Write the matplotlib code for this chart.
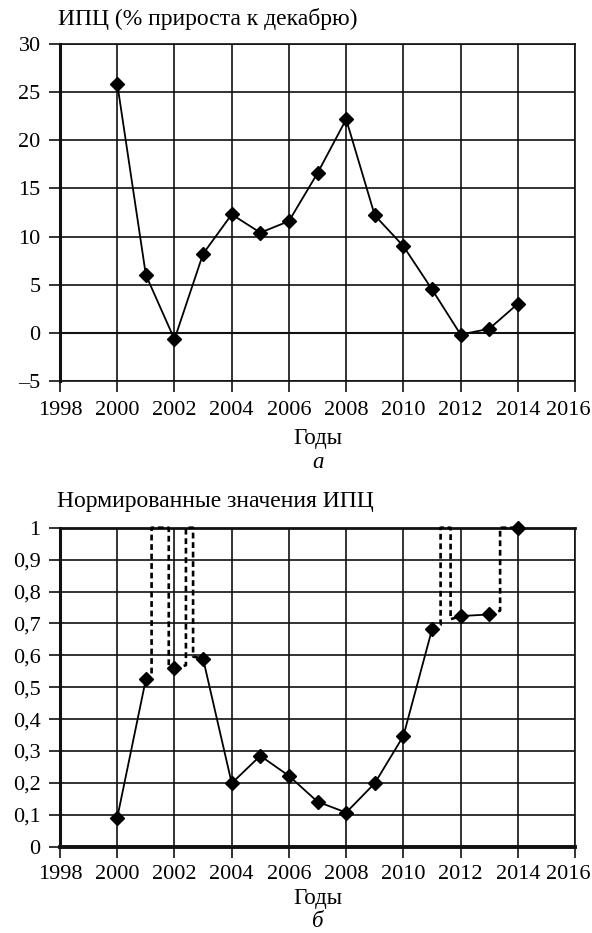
import matplotlib.pyplot as plt
import matplotlib.transforms as mtransforms

plt.rcParams['font.family'] = ['Liberation Serif', 'DejaVu Serif']

years = list(range(2000, 2015))
cpi = [25.9, 6.0, -0.7, 8.2, 12.3, 10.4, 11.6, 16.6, 22.2, 12.2, 9.0, 4.5, -0.2, 0.4, 3.0]
cpi_norm = [0.091, 0.525, 0.559, 0.589, 0.199, 0.285, 0.222, 0.141, 0.107,
            0.199, 0.347, 0.681, 0.723, 0.728, 1.0]

# solid pieces of the normalised series (first year, last year)
norm_solid = [(2000, 2001), (2003, 2011), (2012, 2013)]

# dashed detours between points of the normalised series
dash_x = [
    [2001, 2001.2, 2001.2, 2001.8, 2001.8, 2002],
    [2002, 2002.4, 2002.4, 2002.65, 2002.65, 2003],
    [2011, 2011.3, 2011.3, 2011.65, 2011.65, 2012],
    [2013, 2013.38, 2013.38, 2014],
]
dash_y = [
    [0.525, 0.533, 1.0, 1.0, 0.569, 0.559],
    [0.559, 0.569, 1.0, 1.0, 0.596, 0.589],
    [0.681, 0.695, 1.0, 1.0, 0.713, 0.723],
    [0.728, 0.74, 1.0, 1.0],
]

x_ticks = list(range(1998, 2017, 2))
cpi_ticks = [-5, 0, 5, 10, 15, 20, 25, 30]
cpi_labels = ['\u20135', '0', '5', '10', '15', '20', '25', '30']
norm_ticks = [i / 10 for i in range(11)]
norm_labels = ['0', '0,1', '0,2', '0,3', '0,4', '0,5', '0,6', '0,7', '0,8', '0,9', '1']

INK = '#111111'
FS = 16

fig = plt.figure(figsize=(5.92, 9.33), dpi=100)
ax1 = fig.add_axes([0.1014, 0.592, 0.870, 0.3605])
ax2 = fig.add_axes([0.1014, 0.0925, 0.870, 0.3419])


def style(ax, xt, yt, ylabels, xpad):
    ax.set_xlim(1998, 2016)
    ax.set_ylim(yt[0], yt[-1])
    ax.set_xticks(xt)
    ax.set_xticklabels([str(t) for t in xt])
    ax.set_yticks(yt)
    ax.set_yticklabels(ylabels)
    ax.grid(True, color=INK, lw=1.2)
    ax.set_axisbelow(True)
    for s in ax.spines.values():
        s.set_color(INK)
        s.set_linewidth(1.2)
    ax.spines['left'].set_linewidth(2.2)
    ax.tick_params(axis='both', direction='out', length=8, width=1.2,
                   color=INK, labelsize=FS)
    ax.tick_params(axis='x', pad=xpad)
    ax.tick_params(axis='y', pad=6)
    # last year label sits a little inside, as in the source
    last = ax.get_xticklabels()[-1]
    last.set_transform(last.get_transform() +
                       mtransforms.ScaledTranslation(-7 / 100, 0, fig.dpi_scale_trans))


# chart a
style(ax1, x_ticks, cpi_ticks, cpi_labels, 7)
ax1.axhline(0, color=INK, lw=1.5, zorder=1)
ax1.plot(years, cpi, color='black', lw=1.3, marker='D', ms=7, zorder=3, clip_on=False)

# chart b
style(ax2, x_ticks, norm_ticks, norm_labels, 5)
ax2.spines['bottom'].set_linewidth(2.8)
ax2.spines['top'].set_linewidth(2.0)
for a, b in norm_solid:
    i, j = years.index(a), years.index(b)
    ax2.plot(years[i:j + 1], cpi_norm[i:j + 1], color='black', lw=1.3, zorder=3)
for dx, dy in zip(dash_x, dash_y):
    ax2.plot(dx, dy, color='black', lw=1.9, ls=(0, (2.2, 1.4)), zorder=3, clip_on=False)
ax2.plot(years, cpi_norm, ls='none', color='black', marker='D', ms=7, zorder=4, clip_on=False)

fig.text(0.098, 0.9796, 'ИПЦ (% прироста к декабрю)', ha='left', va='center', fontsize=17)
fig.text(0.5365, 0.5305, 'Годы', ha='center', va='center', fontsize=16.5)
fig.text(0.5365, 0.5048, 'а', ha='center', va='center', fontsize=16.5, style='italic')

fig.text(0.0958, 0.4623, 'Нормированные значения ИПЦ', ha='left', va='center', fontsize=17)
fig.text(0.5365, 0.0375, 'Годы', ha='center', va='center', fontsize=16.5)
fig.text(0.5365, 0.0118, 'б', ha='center', va='center', fontsize=16.5, style='italic')

fig.savefig('out.png', dpi=100, facecolor='white')
